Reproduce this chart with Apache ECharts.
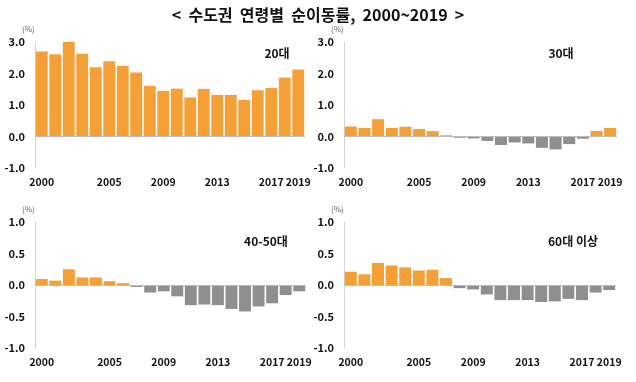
<!DOCTYPE html>
<html><head><meta charset="utf-8">
<script src="https://cdn.jsdelivr.net/npm/echarts@6/dist/echarts.min.js"></script>
<style>html,body{margin:0;padding:0;background:#fff}#c{width:636px;height:382px}</style>
</head><body><div id="c"></div>
<script>
const years = ['2000','2001','2002','2003','2004','2005','2006','2007','2008','2009','2010','2011','2012','2013','2014','2015','2016','2017','2018','2019'];
const shownYears = ['2000','2005','2009','2013','2017','2019'];
const age20 = [2.70,2.61,3.02,2.63,2.20,2.39,2.24,2.03,1.61,1.45,1.52,1.24,1.51,1.32,1.32,1.16,1.47,1.54,1.87,2.13];
const age30 = [0.32,0.27,0.55,0.27,0.31,0.24,0.17,0.04,-0.04,-0.06,-0.14,-0.27,-0.19,-0.22,-0.36,-0.41,-0.24,-0.07,0.18,0.27];
const age4050 = [0.095,0.07,0.25,0.12,0.12,0.06,0.03,-0.03,-0.12,-0.10,-0.18,-0.32,-0.31,-0.32,-0.38,-0.42,-0.34,-0.29,-0.16,-0.10];
const age60 = [0.21,0.17,0.35,0.31,0.28,0.23,0.24,0.11,-0.05,-0.07,-0.15,-0.24,-0.24,-0.24,-0.27,-0.26,-0.22,-0.24,-0.12,-0.08];
const panelNames = ['20대','30대','40-50대','60대 이상'];
const panelData = [age20, age30, age4050, age60];
const yRanges = [[-1,3,1],[-1,3,1],[-1,1,0.5],[-1,1,0.5]];

const FONT = '"Noto Sans CJK KR", "Noto Sans", sans-serif';
const ORANGE = '#F5A037';
const GRAY = '#8F8F8F';
const grids = [
  {left:35, top:42, width:270, height:126},
  {left:344, top:42, width:273, height:126},
  {left:35, top:222, width:271, height:126},
  {left:344, top:222, width:272, height:126}
];
const namePos = [[272,48],[556,48],[261,236],[568,236]];

const chart = echarts.init(document.getElementById('c'));
const option = {
  animation:false,
  backgroundColor:'#fff',
  title: [{text:'<  수도권  연령별  순이동률,  2000~2019  >', left:'center', top:2,
    textStyle:{fontFamily:FONT, fontSize:16, fontWeight:'bold', color:'#111'}}]
    .concat(panelNames.map((n,i)=>({text:n, left:namePos[i][0], top:namePos[i][1], textAlign:'center', textVerticalAlign:'middle',
      textStyle:{fontFamily:FONT, fontSize:12, fontWeight:'bold', color:'#111'}}))),
  graphic: grids.map(g=>({type:'text', left:g.left-13, top:g.top-17,
    style:{text:'(%)', fontFamily:FONT, fontSize:8, fill:'#666'}})),
  grid: grids,
  xAxis: grids.map((g,i)=>({type:'category', gridIndex:i, data:years,
    axisLine:{show:false}, axisTick:{show:false},
    axisLabel:{interval:0, margin:9, fontFamily:FONT, fontSize:10.5, fontWeight:'bold', color:'#111',
      formatter:v=>shownYears.includes(v)?v:''}})),
  yAxis: grids.map((g,i)=>({type:'value', gridIndex:i, min:yRanges[i][0], max:yRanges[i][1], interval:yRanges[i][2],
    axisLine:{show:true, lineStyle:{color:'#d4d4d4', width:1}}, axisTick:{show:false},
    splitLine:{show:false},
    axisLabel:{margin:10, fontFamily:FONT, fontSize:11, fontWeight:'bold', color:'#111', formatter:v=>v.toFixed(1)}})),
  series: panelData.map((d,i)=>({type:'bar', xAxisIndex:i, yAxisIndex:i, data:d, barCategoryGap:'12%',
    itemStyle:{color:p=>p.value>=0?ORANGE:GRAY},
    markLine:{silent:true, symbol:'none', label:{show:false}, lineStyle:{color:'#bdbdbd', width:1, type:'solid'},
      data:[{yAxis:0}]}}))
};
chart.setOption(option);
</script></body></html>
